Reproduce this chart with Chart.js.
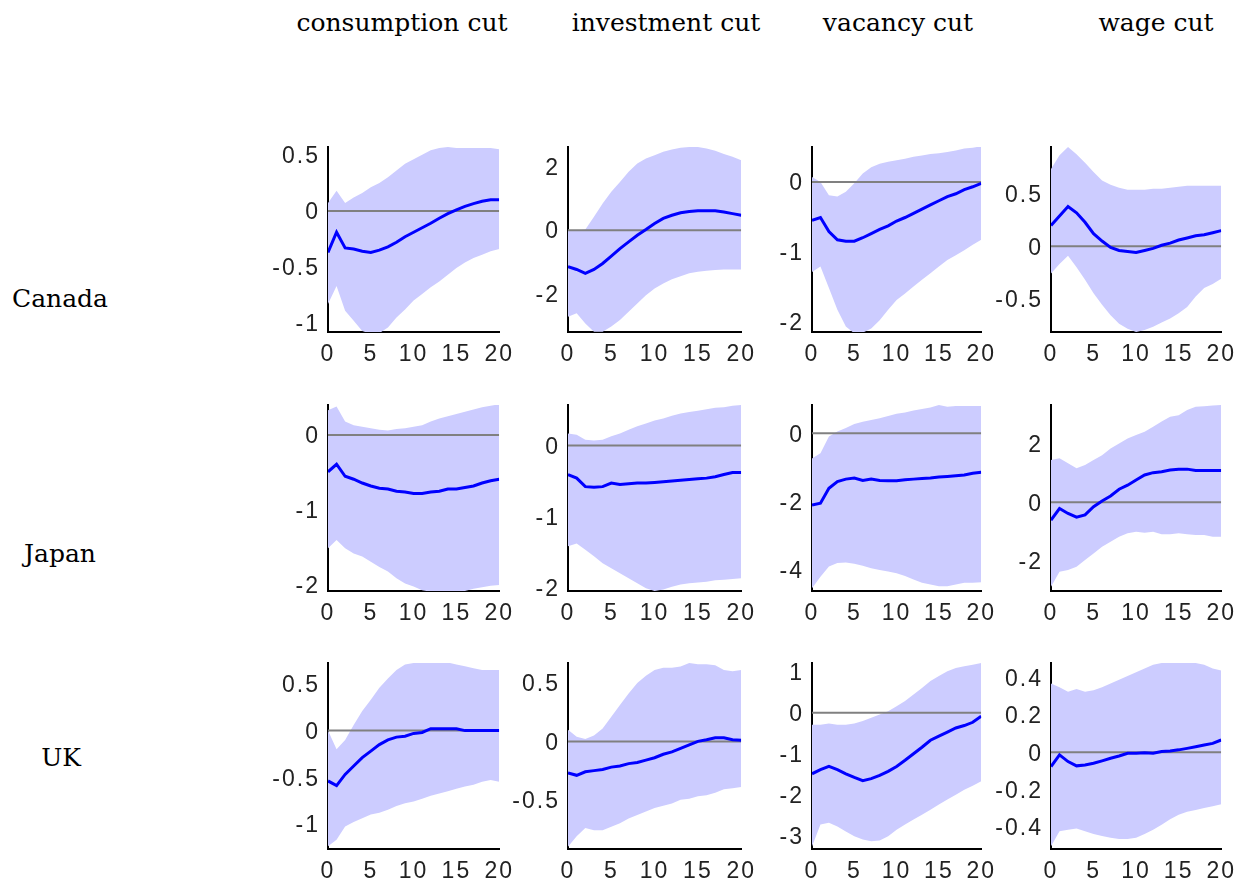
<!DOCTYPE html>
<html>
<head>
<meta charset="utf-8">
<script src="https://cdn.jsdelivr.net/npm/chart.js@4.4.1/dist/chart.umd.min.js"></script>
<style>
  html, body { margin: 0; padding: 0; background: #fff; }
  #page { position: relative; width: 1242px; height: 888px; overflow: hidden; background: #fff; }
  .lbl { position: absolute; font-family: "DejaVu Serif", serif; font-size: 25px; color: #000;
         transform: translate(-50%, -50%); white-space: nowrap; }
  canvas { position: absolute; }
</style>
</head>
<body>
<div id="page"></div>
<script>
// impulse horizons (quarters)
const horizons = [0,1,2,3,4,5,6,7,8,9,10,11,12,13,14,15,16,17,18,19,20];
const shocks = ['consumption cut', 'investment cut', 'vacancy cut', 'wage cut'];
const countries = ['Canada', 'Japan', 'UK'];

// Canada
const caConsMedian = [-0.37,-0.19,-0.33,-0.34,-0.36,-0.37,-0.35,-0.32,-0.28,-0.23,-0.19,-0.15,-0.11,-0.065,-0.024,0.01,0.04,0.065,0.086,0.10,0.10];
const caConsUpper  = [0.07,0.18,0.07,0.12,0.16,0.21,0.25,0.30,0.36,0.42,0.46,0.50,0.54,0.56,0.57,0.56,0.56,0.56,0.56,0.56,0.55];
const caConsLower  = [-0.83,-0.67,-0.89,-0.98,-1.07,-1.10,-1.09,-1.04,-0.95,-0.88,-0.80,-0.74,-0.68,-0.63,-0.57,-0.51,-0.46,-0.42,-0.39,-0.36,-0.34];

const caInvMedian = [-1.15,-1.24,-1.36,-1.24,-1.05,-0.82,-0.58,-0.37,-0.16,0.02,0.21,0.37,0.47,0.55,0.59,0.61,0.61,0.61,0.57,0.52,0.47];
const caInvUpper  = [0.01,-0.02,0.02,0.42,0.84,1.21,1.52,1.84,2.10,2.26,2.36,2.47,2.54,2.60,2.62,2.62,2.57,2.50,2.40,2.31,2.20];
const caInvLower  = [-2.73,-2.62,-2.94,-3.2,-3.2,-3.04,-2.83,-2.57,-2.31,-2.05,-1.84,-1.68,-1.55,-1.45,-1.36,-1.31,-1.28,-1.26,-1.24,-1.24,-1.24];

const caVacMedian = [-0.55,-0.51,-0.71,-0.83,-0.85,-0.85,-0.80,-0.74,-0.68,-0.63,-0.56,-0.51,-0.45,-0.39,-0.33,-0.27,-0.21,-0.17,-0.11,-0.07,-0.02];
const caVacUpper  = [0.07,0.0,-0.19,-0.21,-0.14,-0.02,0.12,0.21,0.26,0.29,0.31,0.33,0.36,0.38,0.40,0.41,0.43,0.45,0.48,0.49,0.51];
const caVacLower  = [-1.29,-1.21,-1.52,-1.83,-2.07,-2.17,-2.16,-2.10,-1.98,-1.83,-1.69,-1.60,-1.50,-1.40,-1.31,-1.21,-1.12,-1.05,-0.98,-0.90,-0.83];

const caWageMedian = [0.20,0.29,0.38,0.32,0.23,0.12,0.05,-0.01,-0.04,-0.05,-0.06,-0.04,-0.02,0.01,0.03,0.06,0.08,0.10,0.11,0.13,0.15];
const caWageUpper  = [0.74,0.87,0.95,0.88,0.80,0.71,0.63,0.59,0.56,0.54,0.54,0.54,0.55,0.55,0.56,0.57,0.58,0.58,0.58,0.58,0.58];
const caWageLower  = [-0.26,-0.17,-0.09,-0.20,-0.32,-0.45,-0.56,-0.66,-0.74,-0.79,-0.82,-0.80,-0.77,-0.73,-0.69,-0.64,-0.58,-0.48,-0.40,-0.36,-0.31];

// Japan
const jpConsMedian = [-0.49,-0.39,-0.55,-0.59,-0.64,-0.68,-0.71,-0.72,-0.75,-0.76,-0.78,-0.78,-0.76,-0.75,-0.72,-0.72,-0.70,-0.68,-0.64,-0.61,-0.59];
const jpConsUpper  = [0.33,0.38,0.18,0.13,0.11,0.09,0.07,0.06,0.08,0.09,0.11,0.13,0.18,0.22,0.25,0.28,0.31,0.34,0.37,0.39,0.41];
const jpConsLower  = [-1.51,-1.40,-1.51,-1.58,-1.62,-1.69,-1.76,-1.82,-1.91,-1.98,-2.02,-2.07,-2.09,-2.10,-2.10,-2.10,-2.08,-2.05,-2.03,-2.01,-2.0];

const jpInvMedian = [-0.41,-0.46,-0.58,-0.59,-0.58,-0.53,-0.55,-0.54,-0.53,-0.53,-0.52,-0.51,-0.50,-0.49,-0.48,-0.47,-0.46,-0.44,-0.41,-0.38,-0.38];
const jpInvUpper  = [0.17,0.15,0.08,0.07,0.08,0.13,0.17,0.22,0.27,0.31,0.35,0.38,0.42,0.45,0.47,0.49,0.51,0.53,0.54,0.56,0.57];
const jpInvLower  = [-1.42,-1.38,-1.47,-1.56,-1.66,-1.73,-1.80,-1.87,-1.94,-2.01,-2.05,-2.03,-1.99,-1.96,-1.94,-1.93,-1.92,-1.90,-1.89,-1.88,-1.87];

const jpVacMedian = [-2.11,-2.06,-1.62,-1.42,-1.35,-1.32,-1.39,-1.35,-1.39,-1.40,-1.40,-1.37,-1.35,-1.33,-1.32,-1.29,-1.27,-1.25,-1.23,-1.18,-1.15];
const jpVacUpper  = [-0.74,-0.59,-0.10,0.05,0.15,0.27,0.34,0.39,0.44,0.51,0.57,0.61,0.67,0.71,0.76,0.83,0.78,0.80,0.80,0.80,0.80];
const jpVacLower  = [-4.56,-4.22,-3.92,-3.82,-3.80,-3.84,-3.90,-3.97,-4.02,-4.07,-4.12,-4.20,-4.30,-4.40,-4.45,-4.50,-4.50,-4.45,-4.40,-4.40,-4.38];

const jpWageMedian = [-0.61,-0.21,-0.38,-0.51,-0.43,-0.15,0.05,0.22,0.45,0.59,0.77,0.94,1.02,1.05,1.11,1.14,1.14,1.09,1.09,1.09,1.09];
const jpWageUpper  = [1.45,1.51,1.34,1.17,1.28,1.45,1.62,1.85,2.02,2.19,2.31,2.42,2.59,2.77,2.94,2.99,3.17,3.28,3.30,3.32,3.34];
const jpWageLower  = [-2.89,-2.38,-2.32,-2.21,-1.98,-1.75,-1.52,-1.35,-1.18,-1.06,-1.01,-1.04,-1.01,-1.09,-1.09,-1.06,-1.09,-1.12,-1.12,-1.18,-1.18];

// UK
const ukConsMedian = [-0.54,-0.59,-0.47,-0.38,-0.29,-0.22,-0.15,-0.10,-0.07,-0.06,-0.03,-0.02,0.02,0.02,0.02,0.02,0.0,0.0,0.0,0.0,0.0];
const ukConsUpper  = [0.0,-0.20,-0.10,0.06,0.21,0.33,0.46,0.56,0.65,0.71,0.725,0.73,0.73,0.73,0.73,0.71,0.69,0.67,0.65,0.65,0.65];
const ukConsLower  = [-1.24,-1.17,-1.03,-0.98,-0.94,-0.90,-0.88,-0.85,-0.81,-0.78,-0.76,-0.73,-0.70,-0.675,-0.65,-0.625,-0.60,-0.58,-0.55,-0.53,-0.55];

const ukInvMedian = [-0.27,-0.29,-0.26,-0.25,-0.24,-0.22,-0.21,-0.19,-0.18,-0.16,-0.14,-0.11,-0.09,-0.06,-0.03,0.0,0.014,0.03,0.03,0.014,0.01];
const ukInvUpper  = [0.10,0.04,0.02,0.05,0.11,0.21,0.31,0.41,0.50,0.56,0.61,0.63,0.63,0.64,0.67,0.66,0.66,0.65,0.61,0.60,0.61];
const ukInvLower  = [-0.90,-0.81,-0.74,-0.76,-0.76,-0.73,-0.70,-0.66,-0.63,-0.60,-0.57,-0.55,-0.53,-0.50,-0.49,-0.47,-0.46,-0.44,-0.41,-0.40,-0.39];

const ukVacMedian = [-1.49,-1.39,-1.31,-1.39,-1.49,-1.58,-1.66,-1.61,-1.53,-1.43,-1.31,-1.16,-1.0,-0.84,-0.67,-0.57,-0.47,-0.37,-0.31,-0.23,-0.08];
const ukVacUpper  = [-0.29,-0.29,-0.26,-0.29,-0.29,-0.26,-0.20,-0.12,-0.04,0.04,0.16,0.29,0.45,0.61,0.78,0.90,1.02,1.10,1.14,1.18,1.22];
const ukVacLower  = [-3.27,-2.73,-2.69,-2.78,-2.90,-3.02,-3.10,-3.14,-3.12,-3.02,-2.86,-2.73,-2.61,-2.49,-2.37,-2.24,-2.12,-2.0,-1.88,-1.78,-1.67];

const ukWageMedian = [-0.077,-0.014,-0.05,-0.073,-0.068,-0.059,-0.046,-0.032,-0.02,-0.005,-0.005,-0.002,-0.005,0.004,0.007,0.013,0.021,0.03,0.039,0.048,0.066];
const ukWageUpper  = [0.37,0.35,0.325,0.34,0.325,0.334,0.35,0.37,0.39,0.41,0.43,0.45,0.47,0.48,0.48,0.48,0.48,0.48,0.47,0.45,0.44];
const ukWageLower  = [-0.505,-0.425,-0.416,-0.41,-0.425,-0.44,-0.45,-0.46,-0.466,-0.466,-0.46,-0.44,-0.416,-0.39,-0.36,-0.336,-0.32,-0.31,-0.30,-0.29,-0.28];

// y-axis limits and tick labels, row by row
const yMins = [-1.08, -3.21, -2.15, -0.82,  -2.08, -2.05, -4.64, -3.04,  -1.27, -0.92, -3.33, -0.52];
const yMaxs = [ 0.57,  2.62,  0.50,  0.95,   0.40,  0.57,  0.83,  3.34,   0.725, 0.67,  1.22,  0.48];
const yTicks = [
  [-1, -0.5, 0, 0.5], [-2, 0, 2], [-2, -1, 0], [-0.5, 0, 0.5],
  [-2, -1, 0], [-2, -1, 0], [-4, -2, 0], [-2, 0, 2],
  [-1, -0.5, 0, 0.5], [-0.5, 0, 0.5], [-3, -2, -1, 0, 1], [-0.4, -0.2, 0, 0.2, 0.4]
];
const xTicks = [0, 5, 10, 15, 20];

const medians = [caConsMedian, caInvMedian, caVacMedian, caWageMedian,
                 jpConsMedian, jpInvMedian, jpVacMedian, jpWageMedian,
                 ukConsMedian, ukInvMedian, ukVacMedian, ukWageMedian];
const uppers  = [caConsUpper, caInvUpper, caVacUpper, caWageUpper,
                 jpConsUpper, jpInvUpper, jpVacUpper, jpWageUpper,
                 ukConsUpper, ukInvUpper, ukVacUpper, ukWageUpper];
const lowers  = [caConsLower, caInvLower, caVacLower, caWageLower,
                 jpConsLower, jpInvLower, jpVacLower, jpWageLower,
                 ukConsLower, ukInvLower, ukVacLower, ukWageLower];

// layout of the grid (plot-area boxes in page pixels)
const colLeft = [328, 568, 812, 1051];
const colWidth = [173, 175, 171, 172];
const rowTop = [147, 405, 663];
const rowHeight = [185, 186, 186];
const headerX = [402, 666, 898, 1156];
const rowLabelX = [60, 60, 61];
const rowLabelY = [298, 553, 757];

// chart area inside each canvas: left = Y_AXIS_W, top = PAD_TOP (must exceed the tick-label padding)
const Y_AXIS_W = 64, X_AXIS_H = 40, PAD_TOP = 26, PAD_RIGHT = 22;
const tickFont = { family: '"Liberation Sans", Arial, sans-serif', size: 23 };
const tickColor = '#222';

// the reference tick font is a wide bitmap face, so spread the glyphs a little
const spacingPlugin = {
  id: 'spacing',
  beforeUpdate(chart) { chart.ctx.letterSpacing = '2px'; },
  beforeDraw(chart) { chart.ctx.letterSpacing = '2px'; }
};

const page = document.getElementById('page');

shocks.forEach((s, i) => {
  const d = document.createElement('div');
  d.className = 'lbl';
  d.textContent = s;
  d.style.left = headerX[i] + 'px';
  d.style.top = '22px';
  page.appendChild(d);
});

countries.forEach((c, i) => {
  const d = document.createElement('div');
  d.className = 'lbl';
  d.textContent = c;
  d.style.left = rowLabelX[i] + 'px';
  d.style.top = rowLabelY[i] + 'px';
  page.appendChild(d);
});

function makePanel(row, col) {
  const k = row * 4 + col;
  const canvas = document.createElement('canvas');
  const w = Y_AXIS_W + colWidth[col] + PAD_RIGHT;
  const h = PAD_TOP + rowHeight[row] + X_AXIS_H;
  canvas.width = w;
  canvas.height = h;
  canvas.style.width = w + 'px';
  canvas.style.height = h + 'px';
  canvas.style.left = (colLeft[col] - Y_AXIS_W) + 'px';
  canvas.style.top = (rowTop[row] - PAD_TOP) + 'px';
  page.appendChild(canvas);

  new Chart(canvas, {
    type: 'line',
    plugins: [spacingPlugin],
    data: {
      labels: horizons,
      datasets: [
        { data: medians[k], borderColor: '#0000ff', borderWidth: 3, pointRadius: 0, fill: false, order: 0 },
        { data: horizons.map(() => 0), borderColor: '#808080', borderWidth: 2, pointRadius: 0, fill: false, order: 1 },
        { data: uppers[k], borderColor: 'rgba(0,0,0,0)', borderWidth: 0, backgroundColor: '#ccccff',
          pointRadius: 0, fill: '+1', order: 2 },
        { data: lowers[k], borderColor: 'rgba(0,0,0,0)', borderWidth: 0, pointRadius: 0, fill: false, order: 3 }
      ]
    },
    options: {
      responsive: false,
      animation: false,
      events: [],
      layout: { padding: { top: PAD_TOP, right: PAD_RIGHT, left: 0, bottom: 0 } },
      plugins: { legend: { display: false }, tooltip: { enabled: false } },
      elements: { line: { tension: 0 } },
      scales: {
        x: {
          type: 'linear',
          min: 0,
          max: 20,
          afterBuildTicks: (scale) => { scale.ticks = xTicks.map(v => ({ value: v })); },
          afterFit: (scale) => { scale.height = X_AXIS_H; },
          grid: { display: false, drawTicks: false },
          border: { display: true, color: '#000', width: 2 },
          ticks: { font: tickFont, color: tickColor, padding: 9, maxRotation: 0, autoSkip: false,
                   callback: (v) => String(v) }
        },
        y: {
          min: yMins[k],
          max: yMaxs[k],
          afterBuildTicks: (scale) => { scale.ticks = yTicks[k].map(v => ({ value: v })); },
          afterFit: (scale) => { scale.width = Y_AXIS_W; },
          grid: { display: false, drawTicks: false },
          border: { display: true, color: '#000', width: 2 },
          ticks: { font: tickFont, color: tickColor, padding: 8, autoSkip: false, labelOffset: 2,
                   callback: (v) => String(v) }
        }
      }
    }
  });
}

for (let r = 0; r < 3; r++) {
  for (let c = 0; c < 4; c++) {
    makePanel(r, c);
  }
}
</script>
</body>
</html>
